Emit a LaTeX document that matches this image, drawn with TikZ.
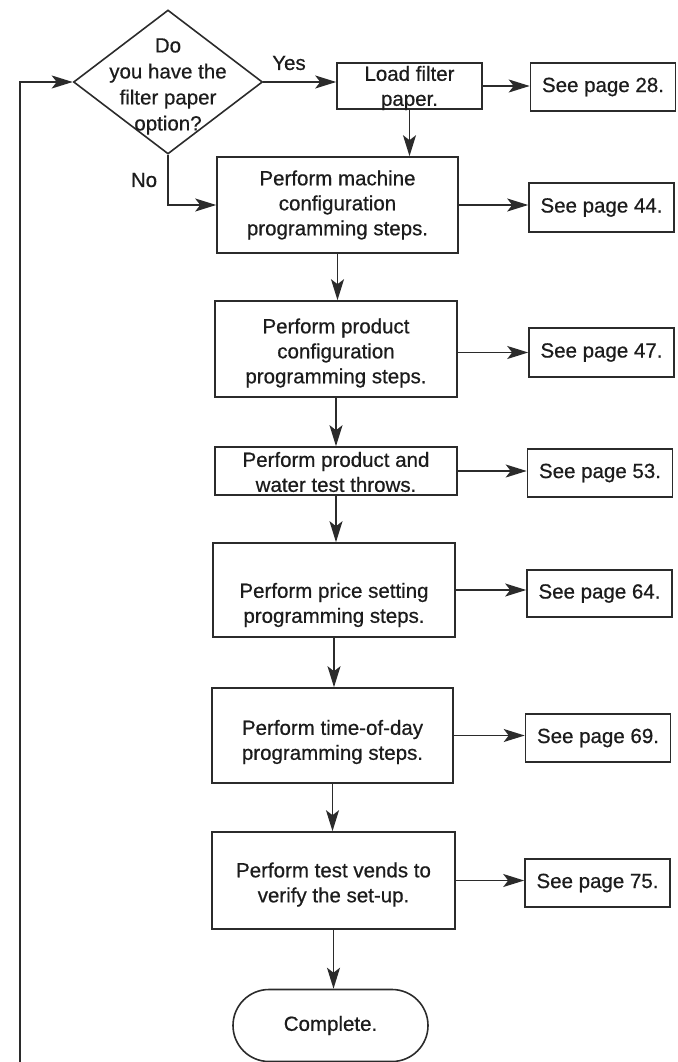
\documentclass[tikz,border=0pt]{standalone}
\usepackage{fontspec}
\setmainfont{Liberation Sans}[BoldFont={Liberation Sans}, BoldFeatures={FakeBold=0.6}]
\usetikzlibrary{shapes.geometric,arrows.meta}
\definecolor{ink}{HTML}{2B2B2B}
\definecolor{txt}{HTML}{1C1C1C}

\begin{document}
\begin{tikzpicture}[x=1pt,y=-1pt,
  line width=1.6pt,
  every node/.style={text=txt, font=\bfseries\fontsize{20.5}{25}\selectfont},
  procbox/.style={draw=ink, rectangle, inner sep=0pt},
  proctext/.style={align=center, inner sep=0pt},
  refbox/.style={draw=ink, rectangle, minimum width=145pt, inner sep=0pt, align=center},
  flow/.style={draw=ink, -{Stealth[length=21pt,width=13pt,inset=5pt]}},
]
\useasboundingbox (0,0) rectangle (677,1062);

% decision
\node[draw=ink, diamond, minimum width=189pt, minimum height=144pt, inner sep=0pt] (dia) at (168,82) {};
\node[align=center, inner sep=0pt, font=\bfseries\fontsize{20.5}{26}\selectfont] (diatext) at (168,86.5)
  {Do\\you have the\\filter paper\\option?};
\node (yes) at (289,63) {Yes};
\node (no) at (144,180) {No};

% process boxes
\node[procbox, minimum width=145pt, minimum height=46pt] (load) at (409.5,86) {};
\node[proctext] (loadtext) at (409.5,88) {Load filter\\paper.};

\node[procbox, minimum width=241pt, minimum height=96pt] (mach) at (337.5,205) {};
\node[proctext] (machtext) at (337.5,205) {Perform machine\\configuration\\programming steps.};

\node[procbox, minimum width=242pt, minimum height=96pt] (prod) at (336,349) {};
\node[proctext] (prodtext) at (336,353) {Perform product\\configuration\\programming steps.};

\node[procbox, minimum width=242pt, minimum height=48pt] (water) at (336,471) {};
\node[proctext] (watertext) at (336,472) {Perform product and\\water test throws.};

\node[procbox, minimum width=242pt, minimum height=94pt] (price) at (334,590) {};
\node[proctext] (pricetext) at (334,605) {Perform price setting\\programming steps.};

\node[procbox, minimum width=241pt, minimum height=95pt] (tod) at (332.5,735.5) {};
\node[proctext] (todtext) at (332.5,742) {Perform time-of-day\\programming steps.};

\node[procbox, minimum width=243pt, minimum height=97pt] (vend) at (333.5,880.5) {};
\node[proctext] (vendtext) at (333.5,884.5) {Perform test vends to\\verify the set-up.};

\node[draw=ink, rounded corners=36pt, minimum width=195pt, minimum height=72pt, inner sep=0pt] (done) at (330.5,1025.5) {Complete.};

% page references
\node[refbox, minimum height=48pt] (p28) at (603,87) {See page 28.};
\node[refbox, minimum height=49pt] (p44) at (601.5,207.5) {See page 44.};
\node[refbox, minimum height=49pt] (p47) at (601.5,352.5) {See page 47.};
\node[refbox, minimum height=48pt] (p53) at (600,473) {See page 53.};
\node[refbox, minimum height=47pt] (p64) at (599.5,593.5) {See page 64.};
\node[refbox, minimum height=48pt] (p69) at (598,738) {See page 69.};
\node[refbox, minimum height=48pt] (p75) at (597.5,883) {See page 75.};

% main flow
\draw[flow] (dia.east) -- (dia.east -| load.west);
\draw[flow] (dia.south) |- (mach.west);
\draw[flow] (load.south) -- (load.south |- mach.north);
\draw[flow] (mach.south) -- (mach.south |- prod.north);
\draw[flow] (prod.south) -- (prod.south |- water.north);
\draw[flow] (water.south) -- (water.south |- price.north);
\draw[flow] (price.south) -- (price.south |- tod.north);
\draw[flow] (tod.south) -- (tod.south |- vend.north);
\draw[flow] (vend.south) -- (vend.south |- done.north);

% references to the manual pages
\draw[flow] (load.east) -- (load.east -| p28.west);
\draw[flow] (mach.east) -- (mach.east -| p44.west);
\draw[flow] (prod.east |- p47.west) -- (p47.west);
\draw[flow] (water.east) -- (water.east -| p53.west);
\draw[flow] (price.east) -- (price.east -| p64.west);
\draw[flow] (tod.east) -- (tod.east -| p69.west);
\draw[flow] (vend.east) -- (vend.east -| p75.west);

% return line along the left edge
\coordinate (loopstart) at (20,1062);
\draw[flow] (loopstart) |- (dia.west);
\end{tikzpicture}
\end{document}
